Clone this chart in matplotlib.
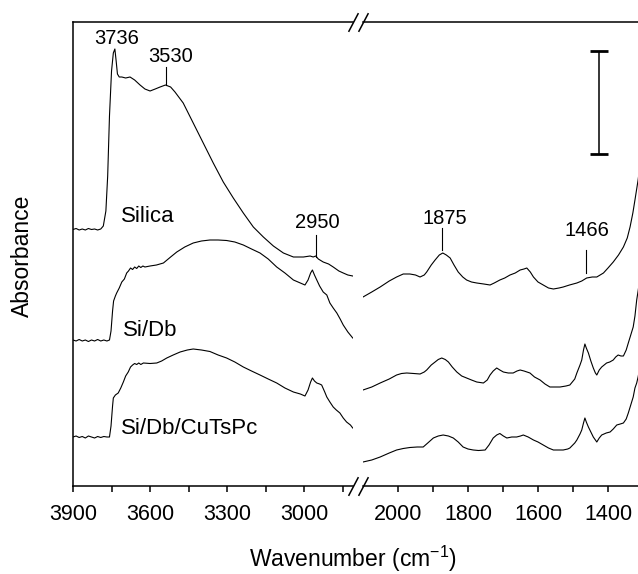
import matplotlib
matplotlib.use("Agg")
import matplotlib.pyplot as plt

plt.rcParams['font.family'] = ['Liberation Sans', 'DejaVu Sans']
plt.rcParams['mathtext.fontset'] = 'custom'
plt.rcParams['mathtext.rm'] = 'Liberation Sans'

# ---- data: wavenumber (cm-1) / absorbance (offset, a.u.) ----
# high wavenumber region (3900 - 2810)
silica_hi_wn = [3900, 3888, 3876, 3864, 3852, 3840, 3828, 3816, 3804, 3792, 3782, 3772, 3765, 3758, 3750,
                3743, 3737, 3732, 3727, 3720, 3710, 3695, 3678, 3660, 3639, 3620, 3600, 3580, 3561, 3540,
                3520, 3503, 3471, 3432, 3393, 3354, 3315, 3276, 3237, 3198, 3159, 3120, 3081, 3042, 3003,
                2977, 2965, 2955, 2945, 2926, 2905, 2887, 2865, 2848, 2830, 2811]
silica_hi_a = [2.565, 2.575, 2.56, 2.57, 2.56, 2.575, 2.565, 2.57, 2.56, 2.57, 2.60, 2.75, 3.10, 3.70, 4.15,
               4.33, 4.37, 4.25, 4.12, 4.09, 4.09, 4.08, 4.09, 4.06, 4.01, 3.97, 3.95, 3.97, 3.99, 4.01,
               3.99, 3.94, 3.83, 3.63, 3.43, 3.23, 3.04, 2.88, 2.73, 2.59, 2.49, 2.40, 2.33, 2.29, 2.29,
               2.30, 2.29, 2.30, 2.27, 2.24, 2.22, 2.19, 2.15, 2.13, 2.11, 2.10]

sidb_hi_wn = [3900, 3888, 3876, 3864, 3852, 3840, 3828, 3816, 3804, 3792, 3780, 3768, 3758, 3752, 3746,
              3742, 3735, 3730, 3720, 3710, 3700, 3691, 3684, 3676, 3668, 3660, 3652, 3644, 3636, 3628,
              3620, 3600, 3575, 3548, 3520, 3496, 3465, 3432, 3400, 3367, 3335, 3302, 3270, 3237, 3205,
              3172, 3140, 3107, 3075, 3042, 3015, 2997, 2985, 2975, 2968, 2960, 2951, 2940, 2926, 2912,
              2900, 2887, 2873, 2860, 2848, 2830, 2811]
sidb_hi_a = [1.46, 1.45, 1.465, 1.45, 1.46, 1.445, 1.46, 1.45, 1.465, 1.45, 1.46, 1.45, 1.46, 1.55, 1.75,
             1.85, 1.90, 1.93, 1.98, 2.04, 2.07, 2.13, 2.15, 2.18, 2.165, 2.19, 2.175, 2.20, 2.185, 2.20,
             2.19, 2.20, 2.21, 2.23, 2.29, 2.34, 2.39, 2.43, 2.45, 2.46, 2.46, 2.455, 2.44, 2.41, 2.37,
             2.33, 2.27, 2.19, 2.13, 2.06, 2.03, 2.01, 2.06, 2.13, 2.16, 2.11, 2.06, 2.00, 1.94, 1.91,
             1.83, 1.78, 1.73, 1.67, 1.61, 1.54, 1.48]

cutspc_hi_wn = [3900, 3888, 3876, 3864, 3852, 3840, 3828, 3816, 3804, 3792, 3780, 3768, 3758, 3752, 3746,
                3743, 3735, 3724, 3714, 3704, 3695, 3685, 3676, 3668, 3660, 3652, 3644, 3636, 3626, 3600,
                3574, 3555, 3535, 3510, 3483, 3455, 3432, 3400, 3367, 3335, 3302, 3270, 3237, 3205, 3172,
                3140, 3107, 3075, 3042, 3015, 2997, 2985, 2975, 2968, 2960, 2951, 2940, 2932, 2920, 2912,
                2900, 2887, 2875, 2861, 2848, 2835, 2820, 2811]
cutspc_hi_a = [0.49, 0.50, 0.485, 0.495, 0.48, 0.50, 0.49, 0.48, 0.495, 0.485, 0.495, 0.49, 0.49, 0.60, 0.80,
               0.88, 0.91, 0.93, 0.98, 1.04, 1.10, 1.14, 1.19, 1.21, 1.225, 1.215, 1.23, 1.215, 1.23, 1.225,
               1.23, 1.25, 1.28, 1.31, 1.34, 1.36, 1.37, 1.36, 1.345, 1.31, 1.28, 1.24, 1.19, 1.15, 1.11,
               1.07, 1.03, 0.98, 0.94, 0.92, 0.90, 0.96, 1.04, 1.08, 1.05, 1.03, 1.02, 1.01, 0.94, 0.89,
               0.84, 0.79, 0.76, 0.73, 0.68, 0.64, 0.61, 0.58]

# low wavenumber region (2100 - 1300)
silica_lo_wn = [2100, 2075, 2051, 2025, 2004, 1985, 1966, 1950, 1937, 1925, 1918, 1905, 1894, 1882, 1872,
                1862, 1851, 1840, 1828, 1815, 1804, 1790, 1775, 1755, 1737, 1725, 1709, 1695, 1680, 1665,
                1651, 1640, 1632, 1622, 1613, 1600, 1585, 1570, 1556, 1540, 1528, 1510, 1489, 1475, 1461,
                1445, 1432, 1413, 1400, 1385, 1370, 1356, 1345, 1337, 1329, 1323, 1314, 1307, 1300]
silica_lo_a = [1.89, 1.94, 1.99, 2.05, 2.09, 2.12, 2.12, 2.11, 2.09, 2.11, 2.14, 2.21, 2.26, 2.31, 2.33,
               2.31, 2.28, 2.21, 2.14, 2.09, 2.06, 2.04, 2.03, 2.02, 2.01, 2.03, 2.06, 2.08, 2.11, 2.13,
               2.16, 2.17, 2.18, 2.14, 2.09, 2.04, 2.01, 1.98, 1.97, 1.98, 1.99, 2.01, 2.03, 2.05, 2.08,
               2.09, 2.09, 2.13, 2.18, 2.24, 2.31, 2.39, 2.48, 2.59, 2.73, 2.86, 3.06, 3.25, 3.46]

sidb_lo_wn = [2100, 2075, 2051, 2025, 2004, 1990, 1975, 1955, 1937, 1925, 1918, 1905, 1894, 1885, 1875,
              1865, 1856, 1845, 1832, 1818, 1804, 1790, 1775, 1756, 1745, 1737, 1728, 1718, 1709, 1699,
              1685, 1671, 1660, 1651, 1640, 1623, 1610, 1594, 1580, 1566, 1550, 1537, 1520, 1509, 1495,
              1489, 1480, 1475, 1470, 1466, 1462, 1456, 1449, 1442, 1436, 1432, 1425, 1418, 1404, 1395,
              1385, 1378, 1371, 1363, 1356, 1348, 1342, 1335, 1328, 1323, 1318, 1314, 1307, 1300]
sidb_lo_a = [0.96, 0.99, 1.03, 1.07, 1.11, 1.125, 1.13, 1.125, 1.12, 1.14, 1.16, 1.21, 1.24, 1.265, 1.28,
             1.265, 1.24, 1.19, 1.14, 1.10, 1.08, 1.06, 1.04, 1.03, 1.06, 1.11, 1.15, 1.18, 1.16, 1.14,
             1.13, 1.13, 1.15, 1.16, 1.15, 1.13, 1.09, 1.06, 1.02, 0.99, 0.99, 0.99, 1.00, 1.01, 1.07,
             1.13, 1.21, 1.26, 1.36, 1.42, 1.38, 1.33, 1.25, 1.18, 1.13, 1.11, 1.16, 1.19, 1.23, 1.24,
             1.26, 1.29, 1.31, 1.30, 1.30, 1.36, 1.43, 1.51, 1.59, 1.70, 1.86, 1.95, 2.12, 2.30]

cutspc_lo_wn = [2100, 2075, 2051, 2025, 2004, 1985, 1966, 1945, 1928, 1915, 1899, 1885, 1871, 1856, 1842,
                1828, 1814, 1800, 1785, 1770, 1751, 1740, 1728, 1718, 1709, 1699, 1689, 1675, 1661, 1650,
                1642, 1628, 1613, 1600, 1585, 1570, 1556, 1540, 1528, 1515, 1509, 1495, 1489, 1480, 1475,
                1470, 1466, 1462, 1456, 1449, 1442, 1436, 1432, 1425, 1418, 1405, 1394, 1385, 1375, 1365,
                1356, 1348, 1342, 1335, 1328, 1323, 1318, 1314, 1307, 1300]
cutspc_lo_a = [0.24, 0.26, 0.29, 0.33, 0.36, 0.375, 0.385, 0.39, 0.39, 0.43, 0.48, 0.50, 0.51, 0.50, 0.48,
               0.44, 0.39, 0.37, 0.36, 0.355, 0.36, 0.41, 0.48, 0.51, 0.525, 0.50, 0.48, 0.49, 0.49, 0.50,
               0.51, 0.49, 0.46, 0.44, 0.41, 0.38, 0.36, 0.36, 0.36, 0.37, 0.38, 0.43, 0.46, 0.52, 0.56,
               0.63, 0.68, 0.64, 0.59, 0.54, 0.49, 0.46, 0.44, 0.48, 0.51, 0.53, 0.54, 0.57, 0.61, 0.62,
               0.63, 0.67, 0.73, 0.81, 0.89, 0.98, 1.03, 1.09, 1.22, 1.38]

fig = plt.figure(figsize=(6.38, 5.74), dpi=100)
ax1 = fig.add_axes([73/638, 88/574, 280/638, 464/574])
ax2 = fig.add_axes([363/638, 88/574, 280/638, 464/574])

lw = 0.8
for wn, a in [(silica_hi_wn, silica_hi_a), (sidb_hi_wn, sidb_hi_a), (cutspc_hi_wn, cutspc_hi_a)]:
    ax1.plot(wn, a, color='black', lw=lw)
for wn, a in [(silica_lo_wn, silica_lo_a), (sidb_lo_wn, sidb_lo_a), (cutspc_lo_wn, cutspc_lo_a)]:
    ax2.plot(wn, a, color='black', lw=lw)

ax1.set_xlim(3900, 2810)
ax2.set_xlim(2100, 1300)
ax1.set_ylim(0, 4.64)
ax2.set_ylim(0, 4.64)

ax1.set_xticks([3900, 3600, 3300, 3000])
ax1.set_xticks([3750, 3450, 3150, 2850], minor=True)
ax2.set_xticks([2000, 1800, 1600, 1400])
ax2.set_xticks([1900, 1700, 1500], minor=True)

for ax in (ax1, ax2):
    ax.set_yticks([])
    ax.spines['right'].set_visible(False)
    for s in ax.spines.values():
        s.set_linewidth(1.1)
    ax.tick_params(axis='x', which='both', direction='out', length=4, width=1.1,
                   labelsize=15.5, pad=9)
ax2.spines['left'].set_visible(False)

# break marks
d = 13.5
slash = [(-1, -1.9), (1, 1.9)]
for x, ax in [(1, ax1), (0, ax2)]:
    ax.plot([x, x], [0, 1], transform=ax.transAxes, marker=slash, markersize=d,
            linestyle='none', color='black', mew=1.1, clip_on=False)

# peak labels
ax1.text(3730, 4.48, '3736', ha='center', va='center', fontsize=14.5)
ax1.text(3522, 4.29, '3530', ha='center', va='center', fontsize=14.5)
ax1.plot([3538, 3538], [4.19, 4.01], color='black', lw=lw)
ax1.text(2948, 2.64, '2950', ha='center', va='center', fontsize=14.5)
ax1.plot([2954, 2954], [2.51, 2.29], color='black', lw=lw)
ax2.text(1866, 2.67, '1875', ha='center', va='center', fontsize=14.5)
ax2.plot([1873, 1873], [2.58, 2.36], color='black', lw=lw)
ax2.text(1459, 2.56, '1466', ha='center', va='center', fontsize=14.5)
ax2.plot([1463, 1463], [2.36, 2.13], color='black', lw=lw)

# sample labels
ax1.text(3713, 2.69, 'Silica', ha='left', va='center', fontsize=16)
ax1.text(3704, 1.56, 'Si/Db', ha='left', va='center', fontsize=16)
ax1.text(3713, 0.58, 'Si/Db/CuTsPc', ha='left', va='center', fontsize=16)

# scale bar
ax2.errorbar([1425], [3.835], yerr=[0.518], color='black', elinewidth=1.1,
             capsize=6.5, capthick=2)

fig.text(22/638, 1 - 256/574, 'Absorbance', rotation=90, ha='center', va='center', fontsize=16.5)
fig.text(353/638, 1 - 559/574, r'Wavenumber (cm$^{\mathregular{-1}}$)', ha='center', va='center',
         fontsize=16.5)

fig.savefig('out.png', dpi=100)
